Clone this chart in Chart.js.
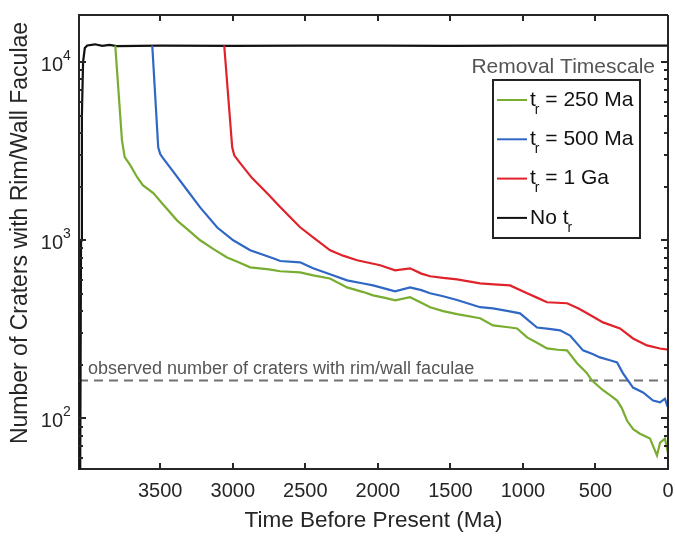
<!DOCTYPE html>
<html>
<head>
<meta charset="utf-8">
<script src="https://cdn.jsdelivr.net/npm/chart.js@4.4.1/dist/chart.umd.min.js"></script>
<style>
  html, body { margin: 0; padding: 0; background: #fff; }
</style>
</head>
<body>
<canvas id="craterChart" width="675" height="537"></canvas>
<script>
// values (time in Ma before present, crater counts)
const seriesLabels = ['t_r = 250 Ma', 't_r = 500 Ma', 't_r = 1 Ga', 'No t_r'];
const seriesColors = ['#78ad30', '#2f67c5', '#e0232a', '#111111'];

const green250Time = [3810, 3764, 3745, 3707, 3659, 3620, 3548, 3480, 3383, 3300, 3225, 3130, 3039, 2960, 2880, 2750, 2673, 2536, 2446, 2330, 2212, 2100, 2033, 1950, 1881, 1778, 1700, 1640, 1550, 1454, 1295, 1206, 1100, 1040, 971, 900, 834, 760, 696, 627, 560, 524, 448, 400, 351, 320, 282, 240, 193, 124, 76, 55, 21, 7, 0];
const green250Count = [12400, 3650, 2930, 2640, 2260, 2040, 1840, 1590, 1290, 1130, 1000, 890, 800, 752, 705, 687, 670, 660, 636, 610, 544, 512, 491, 475, 460, 479, 446, 421, 400, 385, 365, 333, 325, 320, 285, 265, 247, 243, 241, 204, 180, 163, 144, 135, 126, 115, 97, 87, 82, 77, 62, 73, 77, 68, 72];

const blue500Time = [3555, 3514, 3500, 3486, 3417, 3314, 3225, 3107, 2997, 2880, 2722, 2673, 2536, 2446, 2330, 2212, 2100, 2033, 1950, 1881, 1778, 1700, 1640, 1550, 1454, 1295, 1206, 1100, 1020, 903, 820, 744, 675, 586, 520, 469, 400, 351, 310, 241, 172, 103, 55, 21, 7, 0];
const blue500Count = [12400, 3330, 3050, 2930, 2470, 1910, 1530, 1180, 1000, 880, 792, 765, 752, 696, 644, 596, 572, 558, 535, 517, 544, 525, 504, 485, 462, 421, 415, 400, 389, 324, 318, 312, 292, 241, 230, 220, 212, 206, 179, 149, 140, 126, 123, 129, 119, 121];

const red1GaTime = [3059, 3004, 2990, 2949, 2870, 2763, 2680, 2604, 2536, 2446, 2329, 2240, 2143, 1984, 1881, 1778, 1700, 1640, 1550, 1454, 1295, 1200, 1089, 971, 900, 834, 696, 620, 558, 448, 331, 241, 145, 55, 0];
const red1GaCount = [12400, 3330, 3000, 2710, 2250, 1836, 1560, 1346, 1183, 1040, 879, 820, 772, 724, 678, 696, 650, 628, 615, 604, 573, 565, 558, 504, 475, 449, 443, 415, 389, 346, 320, 281, 257, 247, 243];

const noTrTime = [4052, 4046, 4040, 4032, 4020, 4003, 3950, 3900, 3850, 3800, 3500, 3000, 2500, 2000, 1500, 1000, 500, 0];
const noTrCount = [45, 1000, 5000, 10000, 12000, 12400, 12600, 12350, 12500, 12300, 12400, 12350, 12400, 12400, 12350, 12400, 12400, 12400];

const observedCount = 163;
const observedLabel = 'observed number of craters with rim/wall faculae';
const legendTitle = 'Removal Timescale';
const yTitle = 'Number of Craters with Rim/Wall Faculae';

const xTicks = [0, 500, 1000, 1500, 2000, 2500, 3000, 3500];
const yMajorTicks = [100, 1000, 10000];
const xRange = [0, 4060];
const yRange = [52, 18400];

const fontFamily = '"Liberation Sans", Arial, Helvetica, sans-serif';
const textColor = '#262626';

const toPoints = (ts, vs) => ts.map((t, i) => ({ x: t, y: vs[i] }));
const seriesData = [
  toPoints(green250Time, green250Count),
  toPoints(blue500Time, blue500Count),
  toPoints(red1GaTime, red1GaCount),
  toPoints(noTrTime, noTrCount)
];

function drawSubLabel(ctx, text, x, y, size) {
  // "t_r ..." -> t with subscript r
  const i = text.indexOf('_');
  const pre = text.slice(0, i), sub = text.charAt(i + 1), post = text.slice(i + 2);
  ctx.textAlign = 'left';
  ctx.textBaseline = 'middle';
  ctx.font = size + 'px ' + fontFamily;
  ctx.fillText(pre, x, y);
  let w = ctx.measureText(pre).width;
  ctx.font = Math.round(size * 0.68) + 'px ' + fontFamily;
  ctx.fillText(sub, x + w - 1, y + 10);
  w += ctx.measureText(sub).width - 1;
  ctx.font = size + 'px ' + fontFamily;
  ctx.fillText(post, x + w, y);
}

const frame = {
  id: 'frame',
  afterDraw(chart) {
    const { ctx, chartArea: a, scales: { x, y } } = chart;
    const seg = (x1, y1, x2, y2) => { ctx.beginPath(); ctx.moveTo(x1, y1); ctx.lineTo(x2, y2); ctx.stroke(); };
    ctx.save();
    ctx.strokeStyle = textColor;
    ctx.lineWidth = 2;
    seg(a.left, a.top, a.right, a.top);
    seg(a.right, a.top, a.right, a.bottom);

    // inward ticks
    xTicks.forEach(v => {
      const px = Math.round(x.getPixelForValue(v));
      seg(px, a.bottom, px, a.bottom - 6);
      seg(px, a.top, px, a.top + 6);
    });
    for (let e = 1; e <= 4; e++) {
      for (let k = 1; k <= 9; k++) {
        const v = k * Math.pow(10, e);
        if (v < yRange[0] || v > yRange[1]) continue;
        const py = Math.round(y.getPixelForValue(v));
        const len = k === 1 ? 7 : 4;
        seg(a.left, py, a.left + len, py);
        seg(a.right, py, a.right - len, py);
      }
    }

    // y tick labels 10^n
    ctx.fillStyle = textColor;
    yMajorTicks.forEach(v => {
      const py = y.getPixelForValue(v);
      ctx.font = '20px ' + fontFamily;
      ctx.textAlign = 'right';
      ctx.textBaseline = 'middle';
      ctx.fillText('10', a.left - 16, py + 3);
      ctx.font = '14px ' + fontFamily;
      ctx.textAlign = 'left';
      ctx.fillText(String(Math.round(Math.log10(v))), a.left - 16, py - 6);
    });

    // y axis title
    ctx.save();
    ctx.translate(21, (a.top + a.bottom) / 2 - 9);
    ctx.rotate(-Math.PI / 2);
    ctx.font = '23px ' + fontFamily;
    ctx.textAlign = 'center';
    ctx.textBaseline = 'middle';
    ctx.fillText(yTitle, 0, 0);
    ctx.restore();

    // observed line label
    ctx.fillStyle = '#555555';
    ctx.font = '18px ' + fontFamily;
    ctx.textAlign = 'left';
    ctx.textBaseline = 'alphabetic';
    ctx.fillText(observedLabel, a.left + 9, y.getPixelForValue(observedCount) - 7);

    // legend
    const bw = 147, bh = 158;
    const bx = a.right - 28 - bw, by = a.top + 65;
    ctx.fillStyle = '#555555';
    ctx.font = '21px ' + fontFamily;
    ctx.textAlign = 'right';
    ctx.textBaseline = 'middle';
    ctx.fillText(legendTitle, a.right - 13, a.top + 52);
    ctx.fillStyle = '#ffffff';
    ctx.fillRect(bx, by, bw, bh);
    ctx.strokeStyle = '#222222';
    ctx.lineWidth = 2;
    ctx.strokeRect(bx, by, bw, bh);
    seriesLabels.forEach((lab, i) => {
      const ly = by + 20 + i * 39.3;
      ctx.strokeStyle = seriesColors[i];
      ctx.lineWidth = 2;
      seg(bx + 4, ly, bx + 34, ly);
      ctx.fillStyle = '#111111';
      drawSubLabel(ctx, lab, bx + 37, ly, 21);
    });
    ctx.restore();
  }
};

const datasets = seriesData.map((d, i) => ({
  label: seriesLabels[i],
  data: d,
  borderColor: seriesColors[i],
  borderWidth: 2.2,
  pointRadius: 0,
  tension: 0
}));
datasets.push({
  label: observedLabel,
  data: [{ x: xRange[1], y: observedCount }, { x: xRange[0], y: observedCount }],
  borderColor: '#707070',
  borderWidth: 2,
  borderDash: [9, 6],
  pointRadius: 0
});

new Chart(document.getElementById('craterChart').getContext('2d'), {
  type: 'line',
  data: { datasets },
  options: {
    responsive: false,
    animation: false,
    devicePixelRatio: 1,
    layout: { padding: { top: 15, right: 7, left: 0, bottom: 0 } },
    plugins: { legend: { display: false }, tooltip: { enabled: false } },
    scales: {
      x: {
        type: 'linear',
        reverse: true,
        min: xRange[0],
        max: xRange[1],
        afterBuildTicks: s => { s.ticks = xTicks.map(v => ({ value: v })); },
        afterFit: s => { s.height = 68; },
        grid: { display: false, drawTicks: false },
        border: { display: true, color: textColor, width: 2 },
        ticks: { color: textColor, font: { family: fontFamily, size: 20 }, padding: 10, maxRotation: 0, callback: v => String(v) },
        title: { display: true, text: 'Time Before Present (Ma)', color: textColor, font: { family: fontFamily, size: 22.5 }, padding: { top: 0, bottom: 3 } }
      },
      y: {
        type: 'logarithmic',
        min: yRange[0],
        max: yRange[1],
        afterFit: s => { s.width = 79; },
        grid: { display: false, drawTicks: false },
        border: { display: true, color: textColor, width: 2 },
        ticks: { display: false },
        title: { display: false }
      }
    }
  },
  plugins: [frame]
});
</script>
</body>
</html>
